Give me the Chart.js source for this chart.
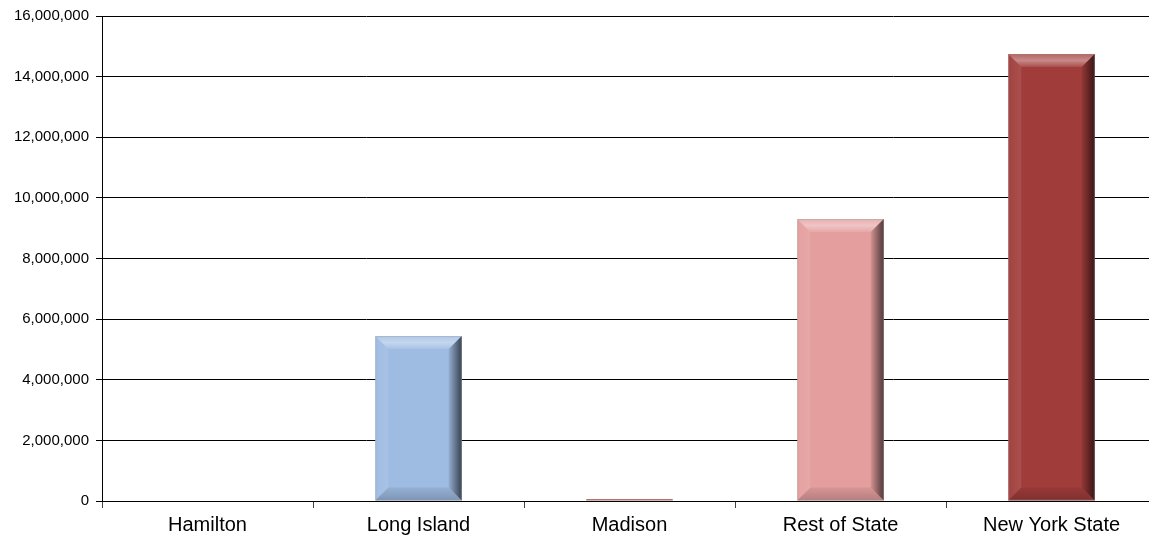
<!DOCTYPE html>
<html>
<head>
<meta charset="utf-8">
<script src="https://cdn.jsdelivr.net/npm/chart.js@4"></script>
<style>
html,body{margin:0;padding:0;background:#fff;overflow:hidden;width:1149px;height:537px;}
#wrap{width:1157px;height:537px;position:relative;}
</style>
</head>
<body>
<div id="wrap"><canvas id="c"></canvas></div>
<script>
const categories = ["Hamilton", "Long Island", "Madison", "Rest of State", "New York State"];
const values = [0, 5440000, 70000, 9300000, 14750000];
const barColors = ["#C0504D", "#9EBBE2", "#B4706E", "#E49E9E", "#A03C3A"];
const yTicks = [0, 2000000, 4000000, 6000000, 8000000, 10000000, 12000000, 14000000, 16000000];

const bevelPlugin = {
  id: 'bevel',
  afterDatasetsDraw(chart) {
    const ctx = chart.ctx;
    const meta = chart.getDatasetMeta(0);
    meta.data.forEach((bar) => {
      const p = bar.getProps(['x', 'y', 'base', 'width'], true);
      const x0 = p.x - p.width / 2, x1 = p.x + p.width / 2;
      const y0 = Math.min(p.y, p.base), y1 = Math.max(p.y, p.base);
      const h = y1 - y0;
      if (h < 4) return;
      const b = Math.min(13, h / 2, p.width / 2);
      ctx.save();
      let g = ctx.createLinearGradient(0, y0, 0, y0 + b);
      g.addColorStop(0, 'rgba(255,255,255,0.2)');
      g.addColorStop(0.5, 'rgba(255,255,255,0.4)');
      g.addColorStop(1, 'rgba(255,255,255,0.1)');
      ctx.fillStyle = g;
      ctx.beginPath();
      ctx.moveTo(x0, y0); ctx.lineTo(x1, y0); ctx.lineTo(x1 - b, y0 + b); ctx.lineTo(x0 + b, y0 + b); ctx.closePath();
      ctx.fill();
      g = ctx.createLinearGradient(0, y1 - b, 0, y1);
      g.addColorStop(0, 'rgba(0,0,0,0.06)');
      g.addColorStop(1, 'rgba(0,0,0,0.2)');
      ctx.fillStyle = g;
      ctx.beginPath();
      ctx.moveTo(x0, y1); ctx.lineTo(x1, y1); ctx.lineTo(x1 - b, y1 - b); ctx.lineTo(x0 + b, y1 - b); ctx.closePath();
      ctx.fill();
      g = ctx.createLinearGradient(x0, 0, x0 + b, 0);
      g.addColorStop(0, 'rgba(255,255,255,0.03)');
      g.addColorStop(1, 'rgba(255,255,255,0.1)');
      ctx.fillStyle = g;
      ctx.beginPath();
      ctx.moveTo(x0, y0); ctx.lineTo(x0 + b, y0 + b); ctx.lineTo(x0 + b, y1 - b); ctx.lineTo(x0, y1); ctx.closePath();
      ctx.fill();
      g = ctx.createLinearGradient(x1 - b, 0, x1, 0);
      g.addColorStop(0, 'rgba(0,0,0,0.08)');
      g.addColorStop(1, 'rgba(0,0,0,0.65)');
      ctx.fillStyle = g;
      ctx.beginPath();
      ctx.moveTo(x1, y0); ctx.lineTo(x1 - b, y0 + b); ctx.lineTo(x1 - b, y1 - b); ctx.lineTo(x1, y1); ctx.closePath();
      ctx.fill();
      ctx.strokeStyle = 'rgba(150,150,150,0.35)';
      ctx.lineWidth = 1;
      ctx.strokeRect(x0 + 0.5, y0 + 0.5, p.width - 1, h - 1);
      ctx.restore();
    });
  }
};

new Chart(document.getElementById('c'), {
  type: 'bar',
  data: {
    labels: categories,
    datasets: [{
      data: values,
      backgroundColor: barColors,
      borderWidth: 0,
      barPercentage: 0.41,
      categoryPercentage: 1.0
    }]
  },
  options: {
    responsive: true,
    maintainAspectRatio: false,
    animation: false,
    layout: { padding: { top: 16, right: 0, left: 0, bottom: 0 } },
    plugins: { legend: { display: false }, tooltip: { enabled: false } },
    scales: {
      x: {
        grid: { display: true, drawOnChartArea: false, offset: true, color: '#444', tickLength: 7, tickWidth: 1 },
        border: { display: true, color: '#000', width: 1 },
        ticks: { color: '#000', font: { family: 'Liberation Sans, Arial', size: 20 }, padding: 5 },
        afterFit(s) { s.height = 36; }
      },
      y: {
        min: 0, max: 16000000,
        afterBuildTicks(s) { s.ticks = yTicks.map(v => ({ value: v })); },
        grid: { color: '#000', lineWidth: 1, tickLength: 6 },
        border: { display: true, color: '#000', width: 1 },
        ticks: {
          color: '#000',
          font: { family: 'Liberation Sans, Arial', size: 15 },
          padding: 7,
          callback: (v) => Number(v).toLocaleString('en-US')
        },
        afterFit(s) { s.width = 102; }
      }
    }
  },
  plugins: [bevelPlugin]
});
</script>
</body>
</html>
